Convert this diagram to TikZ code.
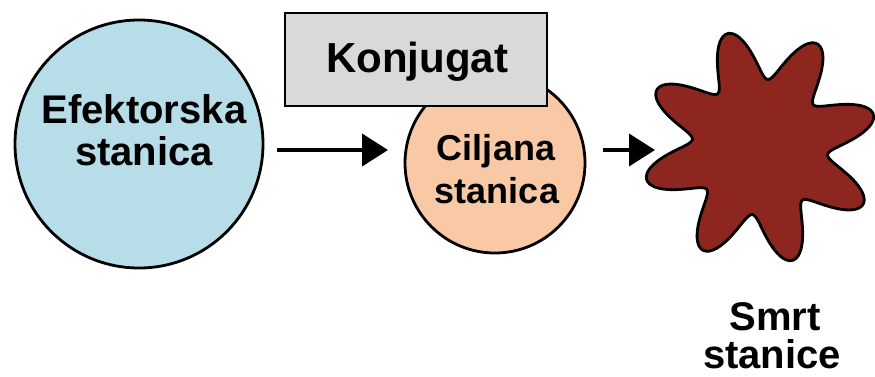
\documentclass[tikz,border=0pt]{standalone}
\usepackage{fontspec}
\setmainfont{Liberation Sans}
\usetikzlibrary{arrows.meta}
\definecolor{effblue}{HTML}{B7DEE8}
\definecolor{tgtpeach}{HTML}{F9C8A4}
\definecolor{conjgrey}{HTML}{D9D9D9}
\definecolor{deathred}{HTML}{8C261E}
\tikzset{
  cell/.style={circle, draw=black, line width=2.8pt, inner sep=0pt},
  lbl/.style={anchor=base, inner sep=0pt, font=\bfseries\fontsize{40}{42}\selectfont},
  lblsmall/.style={anchor=base, inner sep=0pt, font=\bfseries\fontsize{36}{40}\selectfont},
  lblbig/.style={anchor=base, inner sep=0pt, font=\bfseries\fontsize{42}{44}\selectfont},
  arr/.style={line width=4pt, -{Triangle[length=26pt,width=32pt]}},
}
\begin{document}
\begin{tikzpicture}[x=1pt,y=-1pt]
\useasboundingbox (0,0) rectangle (875,376);
\fill[white] (0,0) rectangle (875,376);
% effector cell
\node[cell, fill=effblue, minimum size=248pt] (efe) at (139,144) {};
\node[lbl] (efe1) at (144,123) {Efektorska};
\node[lbl] (efe2) at (144,165) {stanica};
% target cell
\node[cell, fill=tgtpeach, minimum size=180pt] (cil) at (495,163) {};
\node[lblsmall] (cil1) at (496,160) {Ciljana};
\node[lblsmall] (cil2) at (497,203) {stanica};
% conjugate box
\node[draw=black, line width=2.8pt, fill=conjgrey, minimum width=262pt, minimum height=93pt, inner sep=0pt] (konj) at (416,59.5) {};
\node[lblbig] (konjt) at (417,72) {Konjugat};
% dead cell
\filldraw[fill=deathred, draw=black, line width=2.8pt]
  plot[domain=0:360, samples=240, smooth cycle, variable=\t]
  ({760 + (93 + 25*cos(8*(\t-106)))*cos(\t)}, {147 - (93 + 25*cos(8*(\t-106)))*sin(\t)});
\coordinate (dead) at (760,147);
\node[lbl] (smrt1) at (775,330) {Smrt};
\node[lbl] (smrt2) at (772,368) {stanice};
% arrows
\coordinate (a1s) at (277,150);
\coordinate (a1e) at (388,150);
\coordinate (a2s) at (603,150);
\coordinate (a2e) at (655,150);
\draw[arr] (a1s) -- (a1e);
\draw[arr] (a2s) -- (a2e);
\end{tikzpicture}
\end{document}
